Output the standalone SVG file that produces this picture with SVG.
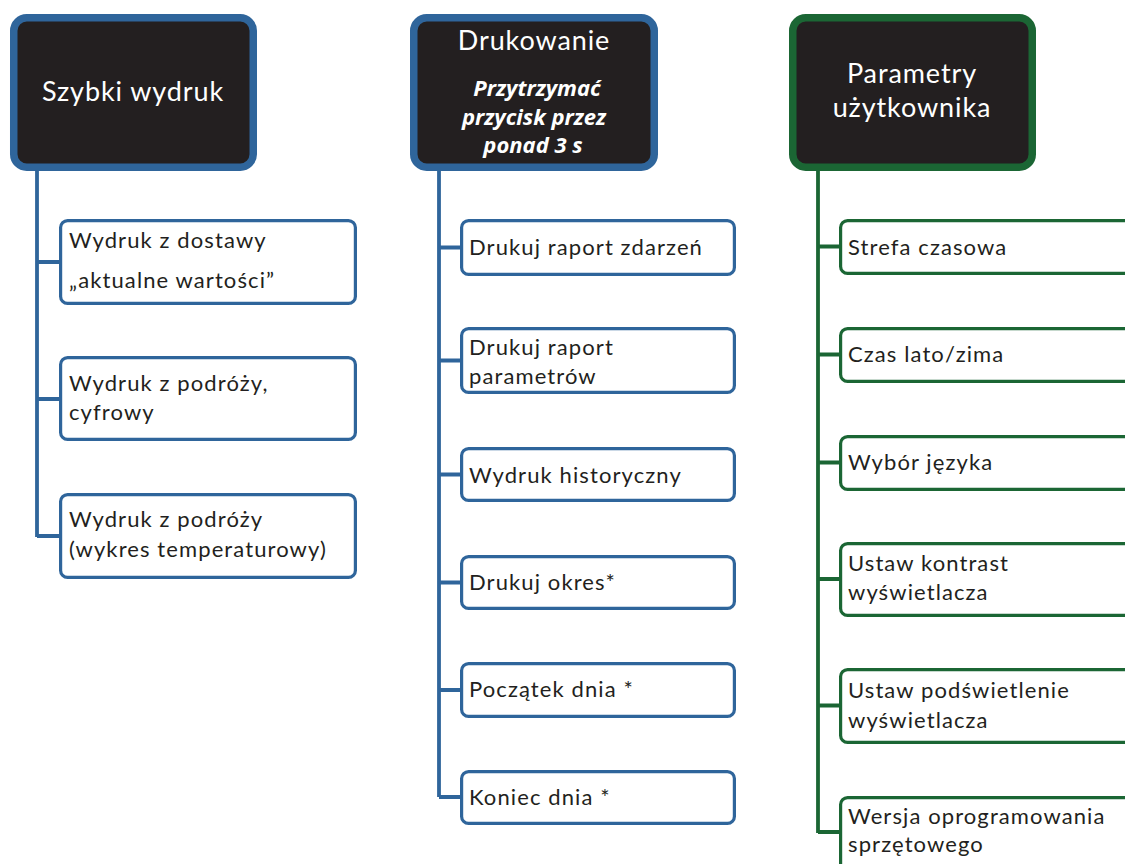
<svg xmlns="http://www.w3.org/2000/svg" width="1125" height="864" viewBox="0 0 1125 864">
<style>
.hdr{fill:#231f20;stroke-width:7.5}
.blue{stroke:#2f659b}
.green{stroke:#1b6634}
.box{fill:#fff;stroke-width:3.2}
.ln{fill:none;stroke-width:3.8}
.ht{font-family:Lato,"Open Sans",sans-serif;font-size:27px;fill:#fff;text-anchor:middle;letter-spacing:0.9px}
.hi{font-family:"Open Sans",Lato,sans-serif;font-size:22px;font-weight:bold;font-style:italic;fill:#fff;text-anchor:middle}
.ct{font-family:Lato,"Open Sans",sans-serif;font-size:22px;fill:#231f20;letter-spacing:1.1px}
</style>
<rect width="1125" height="864" fill="#fff"/>
<g id="connectors">
<path class="ln blue" d="M37 167V537M37 262H62M37 399H62M37 536H62"/>
<path class="ln blue" d="M439 167V797M439 247.5H463M439 360.5H463M439 474.5H463M439 582.5H463M439 690H463M439 797H463"/>
<path class="ln green" d="M818 167V833M818 246.5H842M818 354.5H842M818 462.5H842M818 579H842M818 705.5H842M818 832H842"/>
</g>
<g id="h1"><rect class="hdr blue" x="13.75" y="17.75" width="239.5" height="149.5" rx="13"/><text class="ht" x="133" y="101">Szybki wydruk</text></g>
<g id="h2"><rect class="hdr blue" x="413.75" y="17.75" width="240.5" height="149.5" rx="13"/><text class="ht" x="534" y="50">Drukowanie</text>
<text class="hi" x="537" y="96">Przytrzymać</text><text class="hi" x="534" y="125">przycisk przez</text><text class="hi" x="533" y="153">ponad 3 s</text></g>
<g id="h3"><rect class="hdr green" x="792.75" y="17.75" width="239.5" height="149.5" rx="13"/><text class="ht" x="912" y="83">Parametry</text><text class="ht" x="912" y="117">użytkownika</text></g>

<g id="c1a"><rect class="box blue" x="60.6" y="220.6" width="294.8" height="82.8" rx="7"/><text class="ct" x="69" y="248">Wydruk z dostawy</text><text class="ct" x="69" y="288">„aktualne wartości”</text></g>
<g id="c1b"><rect class="box blue" x="60.6" y="357.6" width="294.8" height="81.8" rx="7"/><text class="ct" x="69" y="391">Wydruk z podróży,</text><text class="ct" x="69" y="420">cyfrowy</text></g>
<g id="c1c"><rect class="box blue" x="60.6" y="494.6" width="294.8" height="82.8" rx="7"/><text class="ct" x="69" y="527">Wydruk z podróży</text><text class="ct" x="69" y="557">(wykres temperaturowy)</text></g>

<g id="c2a"><rect class="box blue" x="461.6" y="220.6" width="272.8" height="53.8" rx="7"/><text class="ct" x="469" y="255">Drukuj raport zdarzeń</text></g>
<g id="c2b"><rect class="box blue" x="461.6" y="328.6" width="272.8" height="63.8" rx="7"/><text class="ct" x="469" y="355">Drukuj raport</text><text class="ct" x="469" y="384">parametrów</text></g>
<g id="c2c"><rect class="box blue" x="461.6" y="448.6" width="272.8" height="51.8" rx="7"/><text class="ct" x="469" y="483">Wydruk historyczny</text></g>
<g id="c2d"><rect class="box blue" x="461.6" y="556.6" width="272.8" height="51.8" rx="7"/><text class="ct" x="469" y="590">Drukuj okres*</text></g>
<g id="c2e"><rect class="box blue" x="461.6" y="663.6" width="272.8" height="52.8" rx="7"/><text class="ct" x="469" y="697">Początek dnia *</text></g>
<g id="c2f"><rect class="box blue" x="461.6" y="771.6" width="272.8" height="51.8" rx="7"/><text class="ct" x="469" y="805">Koniec dnia *</text></g>

<g id="c3a"><rect class="box green" x="840.6" y="220.6" width="300" height="52.8" rx="7"/><text class="ct" x="848" y="255">Strefa czasowa</text></g>
<g id="c3b"><rect class="box green" x="840.6" y="328.6" width="300" height="52.8" rx="7"/><text class="ct" x="848" y="362">Czas lato/zima</text></g>
<g id="c3c"><rect class="box green" x="840.6" y="436.6" width="300" height="52.8" rx="7"/><text class="ct" x="848" y="470">Wybór języka</text></g>
<g id="c3d"><rect class="box green" x="840.6" y="543.6" width="300" height="71.8" rx="7"/><text class="ct" x="848" y="571">Ustaw kontrast</text><text class="ct" x="848" y="600">wyświetlacza</text></g>
<g id="c3e"><rect class="box green" x="840.6" y="669.6" width="300" height="72.8" rx="7"/><text class="ct" x="848" y="698">Ustaw podświetlenie</text><text class="ct" x="848" y="728">wyświetlacza</text></g>
<g id="c3f"><rect class="box green" x="840.6" y="797.6" width="300" height="90" rx="7"/><text class="ct" x="848" y="824">Wersja oprogramowania</text><text class="ct" x="848" y="852">sprzętowego</text></g>
</svg>
